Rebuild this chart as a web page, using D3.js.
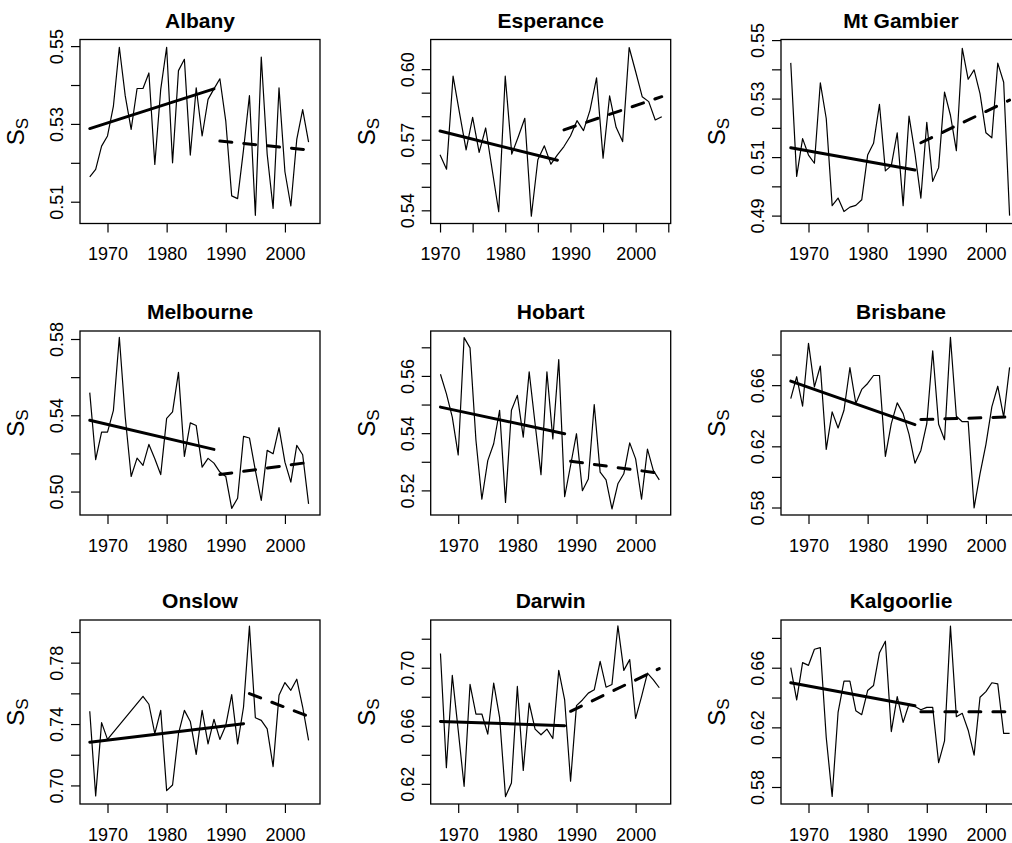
<!DOCTYPE html>
<html>
<head>
<meta charset="utf-8">
<script src="https://cdn.jsdelivr.net/npm/d3@7"></script>
<style>
  body { margin: 0; background: #fff; }
  svg { display: block; font-family: "Liberation Sans", Arial, Helvetica, sans-serif; }
</style>
</head>
<body>
<svg id="chart" width="1012" height="843"></svg>
<script>
// ---- data ----
const stations = ["Albany", "Esperance", "Mt Gambier", "Melbourne", "Hobart", "Brisbane", "Onslow", "Darwin", "Kalgoorlie"];

const years6704 = [1967, 1968, 1969, 1970, 1971, 1972, 1973, 1974, 1975, 1976, 1977, 1978, 1979,
  1980, 1981, 1982, 1983, 1984, 1985, 1986, 1987, 1988, 1989, 1990, 1991, 1992, 1993, 1994, 1995,
  1996, 1997, 1998, 1999, 2000, 2001, 2002, 2003, 2004];
const years7004 = [1970, 1971, 1972, 1973, 1974, 1975, 1976, 1977, 1978, 1979,
  1980, 1981, 1982, 1983, 1984, 1985, 1986, 1987, 1988, 1989, 1990, 1991, 1992, 1993, 1994, 1995,
  1996, 1997, 1998, 1999, 2000, 2001, 2002, 2003, 2004];
const yearsOnslow = [1967, 1968, 1969, 1970, 1976, 1977, 1978, 1979,
  1980, 1981, 1982, 1983, 1984, 1985, 1986, 1987, 1988, 1989, 1990, 1991, 1992, 1993, 1994, 1995,
  1996, 1997, 1998, 1999, 2000, 2001, 2002, 2003, 2004];

const albany = [0.5164, 0.5183, 0.5243, 0.5269, 0.5346, 0.5497, 0.5372, 0.5286, 0.5391, 0.5391,
  0.5431, 0.5196, 0.5389, 0.5497, 0.5200, 0.5437, 0.5466, 0.5220, 0.5393, 0.5269,
  0.5363, 0.5390, 0.5416, 0.5307, 0.5115, 0.5108, 0.5234, 0.5373, 0.5065, 0.5472,
  0.5222, 0.5083, 0.5393, 0.5177, 0.5089, 0.5260, 0.5337, 0.5253];
const esperance = [0.5636, 0.5575, 0.5970, 0.5812, 0.5657, 0.5795, 0.5646, 0.5750, 0.5572, 0.5394,
  0.5970, 0.5639, 0.5713, 0.5791, 0.5375, 0.5615, 0.5674, 0.5596, 0.5636, 0.5671,
  0.5716, 0.5781, 0.5739, 0.5826, 0.5963, 0.5622, 0.5886, 0.5753, 0.5692, 0.6092,
  0.5989, 0.5883, 0.5862, 0.5784, 0.5798];
const mtGambier = [0.5422, 0.5034, 0.5163, 0.5107, 0.5079, 0.5354, 0.5232, 0.4934, 0.4960, 0.4914,
  0.4929, 0.4935, 0.4954, 0.5107, 0.5147, 0.5280, 0.5053, 0.5071, 0.5183, 0.4934,
  0.5240, 0.5113, 0.4960, 0.5219, 0.5017, 0.5064, 0.5322, 0.5243, 0.5122, 0.5472,
  0.5366, 0.5398, 0.5317, 0.5183, 0.5166, 0.5421, 0.5356, 0.4900];
const melbourne = [0.5519, 0.5167, 0.5312, 0.5312, 0.5426, 0.5809, 0.5391, 0.5079, 0.5175, 0.5137,
  0.5247, 0.5172, 0.5089, 0.5384, 0.5418, 0.5625, 0.5184, 0.5360, 0.5346, 0.5128,
  0.5174, 0.5149, 0.5102, 0.5079, 0.4912, 0.4965, 0.5289, 0.5281, 0.5111, 0.4953,
  0.5216, 0.5198, 0.5335, 0.5154, 0.5049, 0.5242, 0.5193, 0.4935];
const hobart = [0.5606, 0.5538, 0.5456, 0.5324, 0.5734, 0.5698, 0.5375, 0.5169, 0.5304, 0.5363,
  0.5480, 0.5158, 0.5480, 0.5532, 0.5386, 0.5614, 0.5433, 0.5255, 0.5614, 0.5380,
  0.5657, 0.5178, 0.5287, 0.5398, 0.5199, 0.5240, 0.5500, 0.5264, 0.5237, 0.5135,
  0.5223, 0.5258, 0.5366, 0.5310, 0.5169, 0.5344, 0.5269, 0.5237];
const brisbane = [0.6512, 0.6655, 0.6462, 0.6874, 0.6589, 0.6725, 0.6180, 0.6425, 0.6320, 0.6436,
  0.6714, 0.6480, 0.6572, 0.6611, 0.6663, 0.6663, 0.6134, 0.6348, 0.6484, 0.6414,
  0.6278, 0.6090, 0.6173, 0.6348, 0.6825, 0.6344, 0.6243, 0.6913, 0.6397, 0.6361,
  0.6361, 0.5797, 0.6020, 0.6213, 0.6458, 0.6593, 0.6392, 0.6716];
const onslow = [0.7483, 0.6932, 0.7409, 0.7300, 0.7581, 0.7529, 0.7337, 0.7489,
  0.6966, 0.7003, 0.7337, 0.7489, 0.7417, 0.7202, 0.7489, 0.7271, 0.7431, 0.7300,
  0.7391, 0.7592, 0.7271, 0.7511, 0.8038, 0.7441, 0.7424, 0.7369, 0.7123, 0.7587,
  0.7670, 0.7620, 0.7692, 0.7511, 0.7293];
const darwin = [0.7098, 0.6311, 0.6947, 0.6570, 0.6183, 0.6885, 0.6681, 0.6681, 0.6542, 0.6894,
  0.6658, 0.6112, 0.6206, 0.6871, 0.6292, 0.6757, 0.6577, 0.6538, 0.6577, 0.6512,
  0.6982, 0.6778, 0.6218, 0.6739, 0.6778, 0.6825, 0.6848, 0.7044, 0.6866, 0.6885,
  0.7288, 0.6982, 0.7056, 0.6651, 0.6801, 0.6963, 0.6917, 0.6862];
const kalgoorlie = [0.6600, 0.6384, 0.6634, 0.6616, 0.6724, 0.6735, 0.6132, 0.5737, 0.6300, 0.6510,
  0.6510, 0.6312, 0.6285, 0.6447, 0.6481, 0.6701, 0.6778, 0.6172, 0.6406, 0.6233,
  0.6357, 0.6340, 0.6318, 0.6334, 0.6334, 0.5963, 0.6109, 0.6879, 0.6271, 0.6294,
  0.6181, 0.6014, 0.6402, 0.6440, 0.6499, 0.6492, 0.6159, 0.6159];

// fitted trends: before the break (solid) and after it (dashed), [year, value]
const albanyEarly = [[1967, 0.5288], [1988, 0.5390]], albanyLate = [[1989, 0.5256], [2004, 0.5233]];
const esperanceEarly = [[1970, 0.5737], [1988, 0.5613]], esperanceLate = [[1989, 0.5742], [2004, 0.5883]];
const mtGambierEarly = [[1967, 0.5132], [1988, 0.5056]], mtGambierLate = [[1989, 0.5149], [2004, 0.5295]];
const melbourneEarly = [[1967, 0.5374], [1988, 0.5221]], melbourneLate = [[1989, 0.5089], [2004, 0.5153]];
const hobartEarly = [[1967, 0.5491], [1988, 0.5398]], hobartLate = [[1989, 0.5302], [2004, 0.5260]];
const brisbaneEarly = [[1967, 0.6626], [1988, 0.6342]], brisbaneLate = [[1989, 0.6375], [2004, 0.6392]];
const onslowEarly = [[1967, 0.7282], [1993, 0.7402]], onslowLate = [[1994, 0.7598], [2004, 0.7450]];
const darwinEarly = [[1967, 0.6630], [1988, 0.6600]], darwinLate = [[1989, 0.6700], [2004, 0.6994]];
const kalgoorlieEarly = [[1967, 0.6499], [1988, 0.6345]], kalgoorlieLate = [[1989, 0.6305], [2004, 0.6305]];

// axis ranges and ticks
const xlimLong = [1965.35, 2005.93];
const xlimShort = [1968.57, 2005.37];
const xTicks10 = [1970, 1980, 1990, 2000];
const xTicks5 = [1970, 1975, 1980, 1985, 1990, 1995, 2000, 2005];
const xTickLabels = [1970, 1980, 1990, 2000];

const ylims = [[0.5044, 0.5517], [0.5344, 0.6126], [0.4873, 0.5502],
  [0.4877, 0.5842], [0.5114, 0.5757], [0.5751, 0.6954],
  [0.6879, 0.8078], [0.6061, 0.7329], [0.5686, 0.6920]];
const yTicks = [
  [0.51, 0.52, 0.53, 0.54, 0.55],
  [0.54, 0.55, 0.56, 0.57, 0.58, 0.59, 0.60],
  [0.49, 0.50, 0.51, 0.52, 0.53, 0.54, 0.55],
  [0.50, 0.52, 0.54, 0.56, 0.58],
  [0.52, 0.53, 0.54, 0.55, 0.56, 0.57],
  [0.58, 0.60, 0.62, 0.64, 0.66, 0.68],
  [0.70, 0.72, 0.74, 0.76, 0.78, 0.80],
  [0.62, 0.64, 0.66, 0.68, 0.70, 0.72],
  [0.58, 0.60, 0.62, 0.64, 0.66, 0.68]];
const yTickLabels = [
  [0.51, 0.53, 0.55],
  [0.54, 0.57, 0.60],
  [0.49, 0.51, 0.53, 0.55],
  [0.50, 0.54, 0.58],
  [0.52, 0.54, 0.56],
  [0.58, 0.62, 0.66],
  [0.70, 0.74, 0.78],
  [0.62, 0.66, 0.70],
  [0.58, 0.62, 0.66]];

const panels = [
  {years: years6704, values: albany, early: albanyEarly, late: albanyLate, xlim: xlimLong, xt: xTicks10},
  {years: years7004, values: esperance, early: esperanceEarly, late: esperanceLate, xlim: xlimShort, xt: xTicks5},
  {years: years6704, values: mtGambier, early: mtGambierEarly, late: mtGambierLate, xlim: xlimLong, xt: xTicks10},
  {years: years6704, values: melbourne, early: melbourneEarly, late: melbourneLate, xlim: xlimLong, xt: xTicks10},
  {years: years6704, values: hobart, early: hobartEarly, late: hobartLate, xlim: xlimLong, xt: xTicks10},
  {years: years6704, values: brisbane, early: brisbaneEarly, late: brisbaneLate, xlim: xlimLong, xt: xTicks10},
  {years: yearsOnslow, values: onslow, early: onslowEarly, late: onslowLate, xlim: xlimLong, xt: xTicks10},
  {years: years6704, values: darwin, early: darwinEarly, late: darwinLate, xlim: xlimLong, xt: xTicks10},
  {years: years6704, values: kalgoorlie, early: kalgoorlieEarly, late: kalgoorlieLate, xlim: xlimLong, xt: xTicks10}
];

// ---- layout ----
const colLeft = [80, 430.7, 781];
const rowTop = [39.5, 331, 620];
const boxW = 240, boxH = 184;

const svg = d3.select("#chart");

panels.forEach(function (p, i) {
  const left = colLeft[i % 3], top = rowTop[Math.floor(i / 3)];
  const x = d3.scaleLinear().domain(p.xlim).range([0, boxW]);
  const y = d3.scaleLinear().domain(ylims[i]).range([boxH, 0]);
  const g = svg.append("g").attr("transform", "translate(" + left + "," + top + ")");

  g.append("clipPath").attr("id", "clip" + i)
    .append("rect").attr("width", boxW).attr("height", boxH);

  const plot = g.append("g").attr("clip-path", "url(#clip" + i + ")");
  const line = d3.line().x(d => x(d[0])).y(d => y(d[1]));

  // annual series
  plot.append("path")
    .datum(p.years.map((yr, k) => [yr, p.values[k]]))
    .attr("d", line)
    .attr("fill", "none").attr("stroke", "#000").attr("stroke-width", 1.2)
    .attr("stroke-linejoin", "round");

  // trend before break
  plot.append("path").datum(p.early).attr("d", line)
    .attr("fill", "none").attr("stroke", "#000").attr("stroke-width", 3)
    .attr("stroke-linecap", "round");

  // trend after break
  plot.append("path").datum(p.late).attr("d", line)
    .attr("fill", "none").attr("stroke", "#000").attr("stroke-width", 3)
    .attr("stroke-linecap", "round").attr("stroke-dasharray", "12,12");

  // x axis
  const xa = g.append("g").attr("transform", "translate(0," + boxH + ")")
    .call(d3.axisBottom(x).tickValues(p.xt).tickSize(9).tickSizeOuter(0)
      .tickFormat(d => xTickLabels.includes(d) ? String(d) : ""));
  xa.select(".domain").remove();
  xa.selectAll("line").attr("stroke", "#000").attr("stroke-width", 1.2);
  xa.selectAll("text").attr("y", 36.5).attr("dy", null)
    .attr("font-size", 18).attr("fill", "#000")
    .attr("font-family", "Liberation Sans, Arial, Helvetica, sans-serif");

  // y axis, labels rotated as in R
  const labs = yTickLabels[i];
  const ya = g.append("g")
    .call(d3.axisLeft(y).tickValues(yTicks[i]).tickSize(9).tickSizeOuter(0)
      .tickFormat(d => labs.some(v => Math.abs(v - d) < 1e-9) ? d3.format(".2f")(d) : ""));
  ya.select(".domain").remove();
  ya.selectAll("line").attr("stroke", "#000").attr("stroke-width", 1.2);
  ya.selectAll("text").attr("x", null).attr("dy", null)
    .attr("transform", "translate(-17,0) rotate(-90)")
    .attr("text-anchor", "middle")
    .attr("font-size", 18).attr("fill", "#000")
    .attr("font-family", "Liberation Sans, Arial, Helvetica, sans-serif");

  // box
  g.append("rect").attr("width", boxW).attr("height", boxH)
    .attr("fill", "none").attr("stroke", "#000").attr("stroke-width", 1.3);

  // title
  g.append("text").attr("x", boxW / 2).attr("y", -12)
    .attr("text-anchor", "middle").attr("font-weight", "bold").attr("font-size", 21)
    .text(stations[i]);

  // y label S_S
  const yl = g.append("text")
    .attr("transform", "translate(-56," + (boxH / 2) + ") rotate(-90)")
    .attr("text-anchor", "middle").attr("font-size", 24);
  yl.append("tspan").text("S");
  yl.append("tspan").attr("font-size", 17).attr("dy", 4).text("S");
});
</script>
</body>
</html>
